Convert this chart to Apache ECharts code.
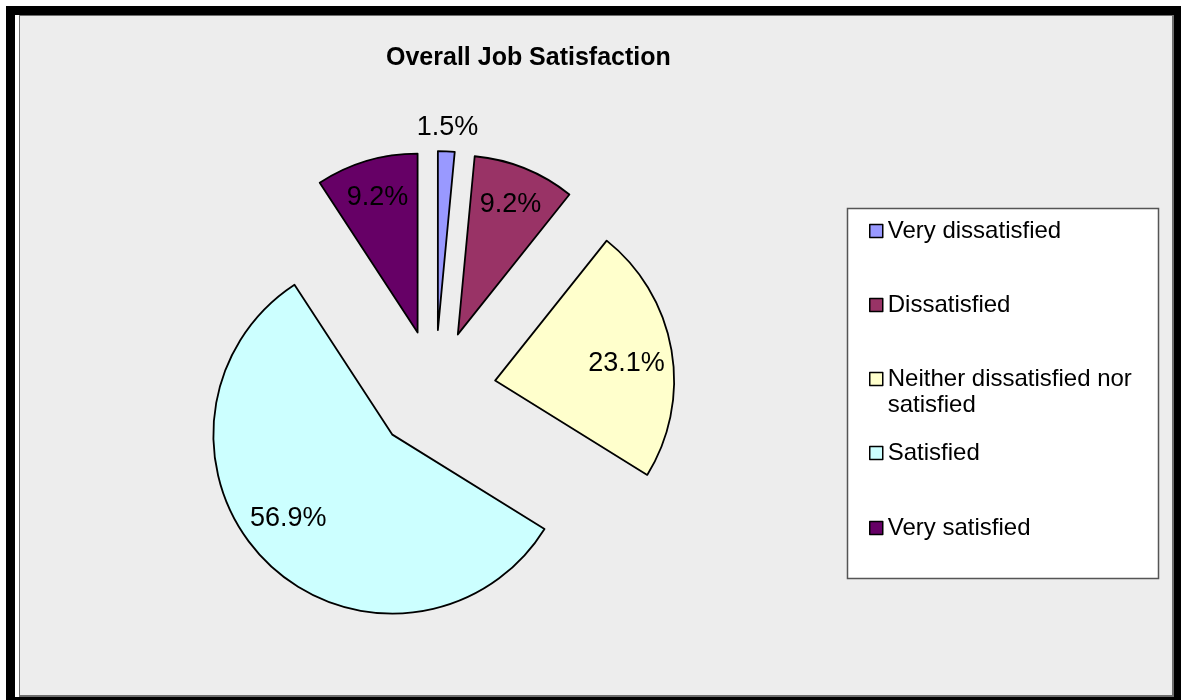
<!DOCTYPE html>
<html>
<head>
<meta charset="utf-8">
<script src="https://cdn.jsdelivr.net/npm/echarts@6/dist/echarts.min.js"></script>
<style>
  html, body { margin: 0; padding: 0; background: #ffffff; }
  #chart { width: 1189px; height: 700px; }
</style>
</head>
<body>
<div id="chart"></div>
<script>
// Survey answers and their shares (percent)
const categories = [
  'Very dissatisfied',
  'Dissatisfied',
  'Neither dissatisfied nor satisfied',
  'Satisfied',
  'Very satisfied'
];
const shares = [1.5, 9.2, 23.1, 56.9, 9.2];
const sliceColors = ['#9999FF', '#993366', '#FFFFCC', '#CCFFFF', '#660066'];
const chartTitle = 'Overall Job Satisfaction';

// Legend text (the long answer wraps onto two lines; a blank first line
// keeps the marker level with the first line of text)
const legendText = {
  'Neither dissatisfied nor satisfied': ' \nNeither dissatisfied nor\nsatisfied'
};
// Nudges for value labels that sit apart from the slice middle
const labelNudge = {
  'Very dissatisfied': [3, -62],
  'Neither dissatisfied nor satisfied': [-7, 7],
  'Satisfied': [-6, -17]
};

const FONT = '"Liberation Sans", Arial, sans-serif';
const CX = 435, CY = 391, R = 179, EXPLODE = 61;

const chart = echarts.init(document.getElementById('chart'), null, { renderer: 'canvas' });

const sliceData = categories.map((name, i) => ({
  name,
  value: shares[i],
  selected: true,
  itemStyle: { color: sliceColors[i] }
}));

const labelData = categories.map((name, i) => ({
  name,
  value: shares[i],
  selected: true
}));

// One legend block per answer, stacked in the white legend box
const legendCenters = [231, 305, 379, 453, 528];
const legends = categories.map((name, i) => {
  const threeLine = !!legendText[name];
  return {
    data: [name],
    left: 869,
    top: threeLine ? legendCenters[i] - 39 : legendCenters[i] - 13,
    padding: 0,
    icon: 'rect',
    itemWidth: 13,
    itemHeight: 13,
    selectedMode: false,
    formatter: (n) => legendText[n] || n,
    itemStyle: { borderColor: '#000', borderWidth: 1.5 },
    textStyle: {
      fontFamily: FONT,
      fontSize: 24,
      color: '#000',
      lineHeight: 26
    }
  };
});

chart.setOption({
  animation: false,
  backgroundColor: '#ffffff',
  title: {
    text: chartTitle,
    left: 386,
    top: 44,
    padding: 0,
    textStyle: { fontFamily: FONT, fontSize: 25, fontWeight: 'bold', color: '#000', lineHeight: 28 }
  },
  legend: legends,
  graphic: [
    // outer black frame
    { type: 'rect', z: -30, silent: true, shape: { x: 6, y: 6, width: 1175, height: 710 }, style: { fill: '#000' } },
    { type: 'rect', z: -29, silent: true, shape: { x: 15, y: 15, width: 1159, height: 682 }, style: { fill: '#ffffff' } },
    // chart area with a thin grey edge
    { type: 'rect', z: -28, silent: true, shape: { x: 19, y: 15, width: 1155, height: 682 }, style: { fill: '#6E6E6E' } },
    { type: 'rect', z: -27, silent: true, shape: { x: 20, y: 16, width: 1152, height: 679 }, style: { fill: '#EDEDED' } },
    // legend box
    { type: 'rect', z: 1, silent: true, shape: { x: 847.5, y: 208.5, width: 311, height: 370 }, style: { fill: '#ffffff', stroke: '#555', lineWidth: 1.5 } }
  ],
  series: [
    {
      type: 'pie',
      center: [CX, CY],
      radius: [0, R],
      startAngle: 90,
      clockwise: true,
      selectedMode: 'multiple',
      selectedOffset: EXPLODE,
      avoidLabelOverlap: false,
      silent: true,
      emphasis: { disabled: true },
      itemStyle: { borderColor: '#000', borderWidth: 1.8 },
      label: { show: false },
      labelLine: { show: false },
      data: sliceData,
      z: 2
    },
    {
      // value labels, placed along each slice's middle
      type: 'pie',
      center: [CX, CY],
      radius: [96, R],
      startAngle: 90,
      clockwise: true,
      selectedMode: 'multiple',
      selectedOffset: EXPLODE,
      avoidLabelOverlap: false,
      silent: true,
      emphasis: { disabled: true },
      itemStyle: { color: 'rgba(0,0,0,0)', borderWidth: 0 },
      label: {
        show: true,
        position: 'inside',
        formatter: (p) => p.value + '%',
        fontFamily: FONT,
        fontSize: 27,
        color: '#000'
      },
      labelLayout: (p) => {
        const n = labelNudge[categories[p.dataIndex]];
        return n ? { dx: n[0], dy: n[1] } : {};
      },
      labelLine: { show: false },
      data: labelData,
      z: 3
    }
  ]
});
</script>
</body>
</html>
